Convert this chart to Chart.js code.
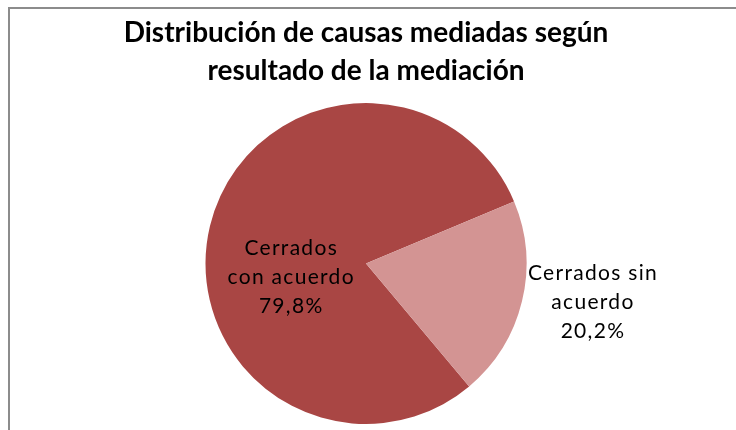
<!DOCTYPE html>
<html>
<head>
<meta charset="utf-8">
<script src="https://cdn.jsdelivr.net/npm/chart.js@4.4.1/dist/chart.umd.min.js"></script>
<style>
  html, body { margin: 0; padding: 0; background: #fff; overflow: hidden; }
  #wrap { position: relative; width: 736px; height: 430px; }
  #frame { position: absolute; left: 8px; top: 7px; width: 760px; height: 460px; border: 2px solid #8c8c8c; box-sizing: border-box; }
  canvas { position: absolute; left: 0; top: 0; }
</style>
</head>
<body>
<div id="wrap">
  <div id="frame"></div>
  <canvas id="chart-result" width="736" height="430"></canvas>
</div>
<script>
const titleLines = ['Distribución de causas mediadas según', 'resultado de la mediación'];
const categories = ['Cerrados con acuerdo', 'Cerrados sin acuerdo'];
const values = [79.8, 20.2];
const labelLines = [['Cerrados', 'con acuerdo', '79,8%'], ['Cerrados sin', 'acuerdo', '20,2%']];
const colors = ['#a94644', '#d39493'];

// where each slice label sits, relative to pie centre, in radius units
const labelOffsets = [[-0.47, 0.085], [1.41, 0.24]];

const sliceLabels = {
    id: 'sliceLabels',
    afterDatasetsDraw(chart) {
        const c = chart.ctx;
        const arcs = chart.getDatasetMeta(0).data;
        const spacing = 1.3;
        c.save();
        c.font = '21px Lato';
        c.letterSpacing = spacing + 'px';
        c.fillStyle = '#000';
        c.textAlign = 'center';
        c.textBaseline = 'middle';
        arcs.forEach((arc, i) => {
            const x = arc.x + labelOffsets[i][0] * arc.outerRadius + spacing / 2;
            const y = arc.y + labelOffsets[i][1] * arc.outerRadius;
            const lines = labelLines[i];
            lines.forEach((t, k) => {
                c.fillText(t, x, y + (k - (lines.length - 1) / 2) * 29);
            });
        });
        c.restore();
    }
};

const ctx = document.getElementById('chart-result');
new Chart(ctx, {
    type: 'pie',
    data: {
        labels: categories,
        datasets: [{
            data: values,
            backgroundColor: colors,
            borderWidth: 0
        }]
    },
    options: {
        responsive: false,
        animation: false,
        rotation: 140,
        layout: {
            padding: { top: 0, bottom: 6, left: 0, right: 4 }
        },
        plugins: {
            legend: { display: false },
            tooltip: { enabled: false },
            title: {
                display: true,
                text: titleLines,
                color: '#000',
                font: { family: 'Lato', size: 28, weight: 'bold', lineHeight: 1.357 },
                padding: { top: 14, bottom: 13 }
            }
        }
    },
    plugins: [sliceLabels]
});
</script>
</body>
</html>
